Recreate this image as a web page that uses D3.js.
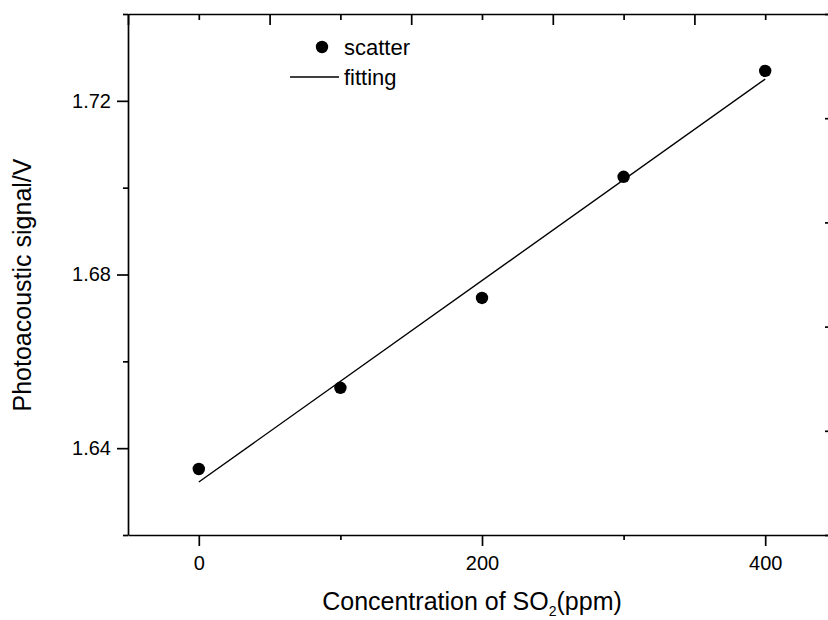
<!DOCTYPE html>
<html><head><meta charset="utf-8">
<script src="https://cdn.jsdelivr.net/npm/d3@7"></script>
<style>
html,body{margin:0;padding:0;background:#fff;}
svg{display:block;font-family:"Liberation Sans",Arial,Helvetica,sans-serif;}
</style></head>
<body>
<svg id="chart" width="828" height="620"></svg>
<script>
// data
const concentration = [0, 100, 200, 300, 400];
const signal = [1.6352, 1.6539, 1.6746, 1.7025, 1.7269];
const fitX = [0, 400];
const fitY = [1.6322, 1.7250];
const xMajorTicks = [0, 200, 400];
const xMinorTicks = [100, 300];
const topMajorTicks = [-50, 50, 150, 250, 350, 450];
const topMinorTicks = [0, 100, 200, 300, 400];
const yMajorTicks = [1.64, 1.68, 1.72];
const yMinorTicks = [1.62, 1.66, 1.70, 1.74];
const rightTicks = [0, 1, 2, 3, 4, 5];
const legendLabels = ["scatter", "fitting"];

const svg = d3.select("#chart");
svg.append("rect").attr("width",828).attr("height",620).attr("fill","#fff");

const L = 128, R = 836, T = 14, B = 535;
const x = d3.scaleLinear().domain([-50, 450]).range([L, R]);
const y = d3.scaleLinear().domain([1.62, 1.74]).range([B, T]);
const yr = d3.scaleLinear().domain([0, 5]).range([B, T]);

const AX_W = 1.7, FS = 20;
function style(g){
  g.selectAll("path").attr("stroke","#000").attr("stroke-width",AX_W);
  g.selectAll("line").attr("stroke","#000").attr("stroke-width",AX_W);
  g.selectAll("text").attr("font-size",FS).attr("fill","#000").attr("font-family","Liberation Sans, Arial, sans-serif");
}

// bottom axis
const gb = svg.append("g").attr("transform",`translate(0,${B})`)
  .call(d3.axisBottom(x).tickValues(xMajorTicks).tickFormat(d3.format("d")).tickSize(11).tickSizeOuter(0).tickPadding(10));
style(gb);
const gbm = svg.append("g").attr("transform",`translate(0,${B})`)
  .call(d3.axisBottom(x).tickValues(xMinorTicks).tickFormat("").tickSize(5).tickSizeOuter(0));
style(gbm); gbm.select("path").remove();

// top axis (inward ticks)
const gt = svg.append("g").attr("transform",`translate(0,${T})`)
  .call(d3.axisTop(x).tickValues(topMajorTicks).tickFormat("").tickSize(-11).tickSizeOuter(0));
style(gt);
const gtm = svg.append("g").attr("transform",`translate(0,${T})`)
  .call(d3.axisTop(x).tickValues(topMinorTicks).tickFormat("").tickSize(-6).tickSizeOuter(0));
style(gtm); gtm.select("path").remove();

// left axis
const gl = svg.append("g").attr("transform",`translate(${L},0)`)
  .call(d3.axisLeft(y).tickValues(yMajorTicks).tickFormat(d3.format(".2f")).tickSize(11).tickSizeOuter(0).tickPadding(6));
style(gl);
const glm = svg.append("g").attr("transform",`translate(${L},0)`)
  .call(d3.axisLeft(y).tickValues(yMinorTicks).tickFormat("").tickSize(5).tickSizeOuter(0));
style(glm); glm.select("path").remove();

// right axis (inward ticks, mostly beyond the canvas)
const gr = svg.append("g").attr("transform",`translate(${R},0)`)
  .call(d3.axisRight(yr).tickValues(rightTicks).tickFormat("").tickSize(-11).tickSizeOuter(0));
style(gr);

// fit line
const line = d3.line().x((d,i)=>x(fitX[i])).y((d,i)=>y(fitY[i]));
svg.append("path").datum(fitX).attr("d",line).attr("fill","none")
  .attr("stroke","#000").attr("stroke-width",1.4);

// scatter
svg.append("g").selectAll("circle").data(concentration).join("circle")
  .attr("cx",d=>x(d)).attr("cy",(d,i)=>y(signal[i])).attr("r",6.2).attr("fill","#000");

// legend
const lg = svg.append("g");
lg.append("circle").attr("cx",322).attr("cy",47).attr("r",6.2).attr("fill","#000");
lg.append("text").attr("x",344).attr("y",55).attr("font-size",22).text(legendLabels[0]);
lg.append("line").attr("x1",290).attr("x2",339).attr("y1",77).attr("y2",77).attr("stroke","#000").attr("stroke-width",1.4);
lg.append("text").attr("x",344).attr("y",85).attr("font-size",22).text(legendLabels[1]);

// x title
const xt = svg.append("text").attr("x",472).attr("y",610).attr("text-anchor","middle").attr("font-size",25);
xt.append("tspan").text("Concentration of SO");
xt.append("tspan").attr("font-size",14).attr("dy",6).text("2");
xt.append("tspan").attr("dy",-6).text("(ppm)");

// y title
svg.append("text").attr("transform",`translate(31,285) rotate(-90)`)
  .attr("text-anchor","middle").attr("font-size",25).text("Photoacoustic signal/V");
</script>
</body></html>
